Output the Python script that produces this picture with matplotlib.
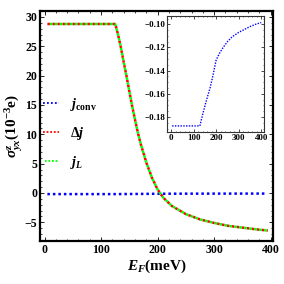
import matplotlib.pyplot as plt
import numpy as np

plt.rcParams['font.family'] = 'Liberation Serif'
plt.rcParams['font.weight'] = 'bold'
plt.rcParams['mathtext.fontset'] = 'custom'
plt.rcParams['mathtext.rm'] = 'Liberation Serif:bold'
plt.rcParams['mathtext.it'] = 'Liberation Serif:bold:italic'
plt.rcParams['mathtext.bf'] = 'Liberation Serif:bold'

# main curves (Delta j and j_L overlap)
E_main = [5, 125, 130, 135, 140, 145, 150, 155, 160, 165, 170, 180, 190, 200,
          210, 225, 250, 275, 300, 325, 350, 375, 395]
dj = [28.8, 28.8, 27.0, 24.8, 22.3, 19.9, 17.3, 14.8, 12.5, 10.3, 8.4, 5.2, 2.6,
      0.6, -0.8, -2.2, -3.6, -4.5, -5.1, -5.6, -5.9, -6.2, -6.4]
jL = dj

# j_conv (inset)
E_conv = [5, 128, 140, 155, 173, 185, 200, 215, 231, 250, 270, 300, 320, 350, 375, 400]
jconv = [-0.1877, -0.1877, -0.178, -0.167, -0.155, -0.145, -0.131, -0.125, -0.120,
         -0.115, -0.111, -0.107, -0.105, -0.102, -0.100, -0.0985]

fig = plt.figure(figsize=(2.84, 2.84), dpi=100)
ax = fig.add_axes([0.141, 0.151, 0.820, 0.810])

lw = 1.8
ax.plot(E_conv[:-1] + [390], jconv, color='blue', lw=lw, linestyle=(0, (1, 1.2)), label=r'$j_{\mathrm{conv}}$')
ax.plot(E_main, dj, color='red', lw=lw, linestyle=(0, (1, 1)), label=r'$\Delta j$')
ax.plot(E_main, jL, color='#00ff00', lw=lw, linestyle=(1, (1, 1)), label=r'$j_L$')

ax.set_xlim(-8, 404)
ax.set_ylim(-8.2, 31)
ax.set_xticks([0, 100, 200, 300, 400])
ax.set_yticks([-5, 0, 5, 10, 15, 20, 25, 30])
ax.set_yticklabels(['\u22125', '0', '5', '10', '15', '20', '25', '30'])
ax.minorticks_on()
ax.tick_params(which='both', direction='in', top=True, right=True, labelsize=8.5, pad=2)
ax.tick_params(which='major', length=3, width=0.6)
ax.tick_params(which='minor', length=1.5, width=0.5)
for t in ax.get_xticklabels() + ax.get_yticklabels():
    t.set_fontweight('bold')
for s in ax.spines.values():
    s.set_linewidth(1.6)

ax.set_xlabel(r'$E_F\mathrm{(meV)}$', fontsize=11, labelpad=1)
ax.set_ylabel(r'$\sigma^z_{yx}\mathrm{(10^{-3}e)}$', fontsize=11, labelpad=0)

leg = ax.legend(loc='upper left', bbox_to_anchor=(-0.04, 0.685), frameon=False, fontsize=10,
                handlelength=1.1, handletextpad=0.8, labelspacing=0.85)
for h in leg.get_lines():
    h.set_linewidth(1.3)

# inset
ins = fig.add_axes([0.588, 0.535, 0.342, 0.408])
ins.plot(E_conv, jconv, color='blue', lw=1.0, linestyle=(0, (1, 1)))
ins.set_xlim(-18, 413)
ins.set_ylim(-0.193, -0.093)
ins.set_xticks([0, 100, 200, 300, 400])
ins.set_yticks([-0.18, -0.16, -0.14, -0.12, -0.10])
ins.set_yticklabels(['\u22120.18', '\u22120.16', '\u22120.14', '\u22120.12', '\u22120.10'])
ins.minorticks_on()
ins.tick_params(which='both', direction='in', top=True, right=True, labelsize=6.5, pad=1.5)
ins.tick_params(which='major', length=2, width=0.5)
ins.tick_params(which='minor', length=1, width=0.4)
for t in ins.get_xticklabels() + ins.get_yticklabels():
    t.set_fontweight('bold')
for s in ins.spines.values():
    s.set_linewidth(0.8)
    s.set_color('#333333')

fig.savefig('out.png', dpi=100)
